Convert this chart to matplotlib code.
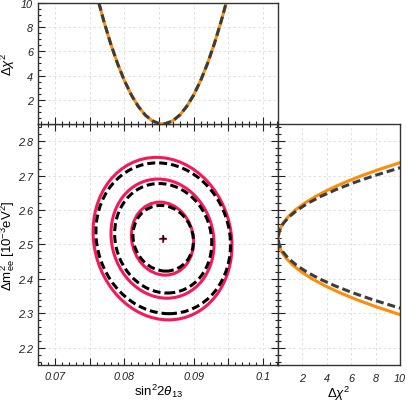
"""
Kontury dopasowania sin^2 2theta13 - dm^2_ee z profilami delta chi^2 na panelach bocznych.
"""
import matplotlib
matplotlib.use("Agg")
import matplotlib.pyplot as plt
import numpy as np
from matplotlib.patches import Circle
from matplotlib.ticker import MultipleLocator, FuncFormatter
from matplotlib.transforms import Affine2D

# punkt najlepszego dopasowania (sin^2 2theta13, dm^2_ee)
best_solid = (0.0855, 2.517)
best_dashed = (0.0856, 2.518)

# kontury 1/2/3 sigma:
# pol-szerokosc w x, pol-wysokosc w y, przesuniecie x najwyzszego punktu (nachylenie)
half_x_solid = [0.00450, 0.00745, 0.01004]
half_y_solid = [0.106, 0.173, 0.236]
tilt_solid = [-0.00039, -0.00064, -0.00087]
half_x_dashed = [0.00437, 0.00702, 0.00973]
half_y_dashed = [0.0954, 0.159, 0.219]
tilt_dashed = [-0.00038, -0.00060, -0.00084]

# profil delta chi^2 w sin^2 2theta13 (gorny panel)
s13 = [0.0763, 0.0770, 0.0780, 0.0790, 0.0800, 0.0810, 0.0820, 0.0830, 0.0840, 0.0850, 0.0855,
       0.0860, 0.0870, 0.0880, 0.0890, 0.0900, 0.0910, 0.0920, 0.0930, 0.0940, 0.0947]
dchi2_s13 = [10.0, 8.53, 6.64, 4.99, 3.57, 2.39, 1.45, 0.74, 0.27, 0.03, 0.0,
             0.03, 0.27, 0.74, 1.45, 2.39, 3.57, 4.99, 6.64, 8.53, 10.0]

# profil delta chi^2 w dm^2_ee (prawy panel)
dm2_solid = [2.29, 2.30, 2.32, 2.34, 2.36, 2.38, 2.40, 2.42, 2.44, 2.46, 2.48, 2.50, 2.517,
             2.54, 2.56, 2.58, 2.60, 2.62, 2.64, 2.66, 2.68, 2.70, 2.72, 2.74, 2.75]
dchi2_dm2_solid = [10.58, 9.67, 7.97, 6.43, 5.06, 3.85, 2.81, 1.93, 1.22, 0.67, 0.28, 0.06, 0.0,
                   0.11, 0.38, 0.82, 1.41, 2.18, 3.11, 4.20, 5.45, 6.87, 8.46, 10.21, 11.1]
dm2_dashed = [2.31, 2.32, 2.34, 2.36, 2.38, 2.40, 2.42, 2.44, 2.46, 2.48, 2.50, 2.52,
              2.54, 2.56, 2.58, 2.60, 2.62, 2.64, 2.66, 2.68, 2.70, 2.72, 2.73]
dchi2_dm2_dashed = [10.53, 9.55, 7.73, 6.10, 4.66, 3.41, 2.36, 1.51, 0.84, 0.37, 0.09, 0.0,
                    0.11, 0.41, 0.90, 1.58, 2.46, 3.53, 4.79, 6.25, 7.90, 9.74, 10.73]

RED = "#f5195a"
ORANGE = "#ff8c0a"
GREY = "#3c3c3c"
DASH = (0, (2.6, 1.3))

plt.rcParams["font.family"] = ["Liberation Sans", "DejaVu Sans"]
plt.rcParams["font.style"] = "italic"
plt.rcParams["font.size"] = 7.8
plt.rcParams["mathtext.fontset"] = "custom"
plt.rcParams["mathtext.rm"] = "Liberation Sans:style=normal"
plt.rcParams["mathtext.it"] = "Liberation Sans:style=italic"
plt.rcParams["mathtext.bf"] = "Liberation Sans:style=normal:bold"


def draw_contours(ax, center, hx, hy, tilt, **kw):
    """Rysuje kontury jako przeksztalcone okregi jednostkowe."""
    for w, h, t in zip(hx, hy, tilt):
        a = np.sqrt(w ** 2 - t ** 2)
        tr = Affine2D(np.array([[a, t, center[0]], [0, h, center[1]], [0, 0, 1]]))
        ax.add_patch(Circle((0, 0), 1, transform=tr + ax.transData, fill=False, **kw))


def style_axes(ax):
    for sp in ax.spines.values():
        sp.set_color("#333333")
        sp.set_linewidth(1.0)
    ax.set_axisbelow(True)
    ax.grid(True, which="major", color="#dcdcdc", linestyle=(0, (3, 3)), linewidth=0.6)
    ax.tick_params(which="both", direction="in", width=0.8, colors="#222222")
    ax.tick_params(which="major", length=4.8)
    ax.tick_params(which="minor", length=2.2)


fig = plt.figure(figsize=(4.07, 4.02), dpi=100)
ax = fig.add_axes([0.0934, 0.0896, 0.5897, 0.5995])
ax_top = fig.add_axes([0.0934, 0.6891, 0.5897, 0.3010], sharex=ax)
ax_right = fig.add_axes([0.6830, 0.0896, 0.2998, 0.5995], sharey=ax)

# panel glowny
draw_contours(ax, best_solid, half_x_solid, half_y_solid, tilt_solid,
              edgecolor=RED, linewidth=2.2)
draw_contours(ax, best_dashed, half_x_dashed, half_y_dashed, tilt_dashed,
              edgecolor="black", linewidth=2.2, linestyle=DASH)
ax.plot(*best_solid, marker="+", color=RED, ms=6, mew=1.4)
ax.plot(*best_dashed, marker="+", color="black", ms=4.5, mew=1.0)

ax.set_xlim(0.0675, 0.1022)
ax.set_ylim(2.15, 2.85)
ax.xaxis.set_major_locator(MultipleLocator(0.005))
ax.xaxis.set_minor_locator(MultipleLocator(0.001))
ax.xaxis.set_major_formatter(FuncFormatter(
    lambda v, p: f"{round(v * 100) / 100:g}" if round(v * 200) % 2 == 0 else ""))
ax.yaxis.set_major_locator(MultipleLocator(0.1))
ax.yaxis.set_minor_locator(MultipleLocator(0.02))
ax.yaxis.set_major_formatter(FuncFormatter(lambda v, p: f"{v:.1f}"))
style_axes(ax)
ax.tick_params(which="both", top=True, right=True)
ax.tick_params(axis="x", pad=4)
ax.set_xlabel(r"$\mathrm{sin}^2 2\theta_{13}$", fontsize=9.5, fontstyle="normal", labelpad=1)
ax.set_ylabel(r"$\Delta\mathrm{m}^2_{\mathrm{ee}}$ [10$^{-3}$eV$^2$]",
              fontsize=9.5, fontstyle="normal", labelpad=0.5)

# gorny panel
ax_top.plot(s13, dchi2_s13, color=ORANGE, linewidth=2.2)
ax_top.plot(s13, dchi2_s13, color=GREY, linewidth=2.2, linestyle=DASH)
ax_top.set_ylim(0, 10)
ax_top.set_yticks([2, 4, 6, 8, 10])
ax_top.yaxis.set_minor_locator(MultipleLocator(0.5))
style_axes(ax_top)
ax_top.tick_params(which="both", labelbottom=False, top=False, right=False)
ax_top.set_ylabel(r"$\Delta\chi^2$", fontsize=9.5, fontstyle="normal", labelpad=3)

# prawy panel
ax_right.plot(dchi2_dm2_solid, dm2_solid, color=ORANGE, linewidth=2.2)
ax_right.plot(dchi2_dm2_dashed, dm2_dashed, color=GREY, linewidth=2.2, linestyle=DASH)
ax_right.set_xlim(0, 10)
ax_right.set_xticks([2, 4, 6, 8, 10])
style_axes(ax_right)
ax_right.tick_params(which="both", labelleft=False, top=False, right=False)
ax_right.tick_params(axis="x", which="both", length=0, pad=5.5)
ax_right.set_xlabel(r"$\Delta\chi^2$", fontsize=9.5, fontstyle="normal", labelpad=1)

fig.savefig("out.png", dpi=100)
